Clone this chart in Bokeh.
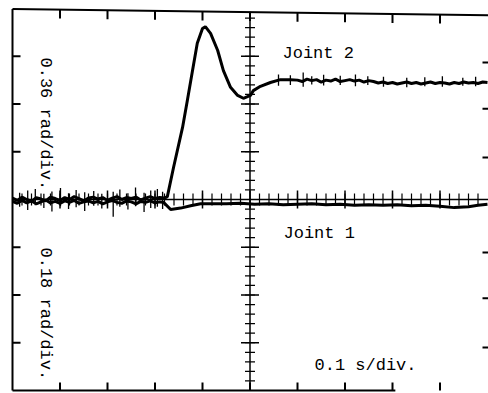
import numpy as np
from bokeh.plotting import figure
from bokeh.models import Range1d
from bokeh.core.properties import value
from bokeh.embed import file_html
from bokeh.resources import INLINE

# ---- data (time in s, amplitude in screen divisions) ----
# Joint 2 : 0.36 rad/div
t2 = [0.000, 0.010, 0.020, 0.030, 0.040, 0.050, 0.060, 0.070, 0.080, 0.090,
      0.100, 0.110, 0.120, 0.130, 0.140, 0.150, 0.160, 0.170, 0.180, 0.190,
      0.200, 0.210, 0.220, 0.230, 0.240, 0.250, 0.260, 0.270, 0.280, 0.290,
      0.300, 0.310, 0.320, 0.326, 0.339, 0.358, 0.368, 0.379, 0.389, 0.400,
      0.406, 0.417, 0.432, 0.444, 0.459, 0.474, 0.486, 0.501, 0.507, 0.522,
      0.543, 0.564, 0.585,
      0.60, 0.61, 0.62, 0.63, 0.64, 0.65, 0.66, 0.67, 0.68, 0.69,
      0.70, 0.71, 0.72, 0.73, 0.74, 0.75, 0.76, 0.77, 0.78, 0.79,
      0.80, 0.81, 0.82, 0.83, 0.84, 0.85, 0.86, 0.87, 0.88, 0.89,
      0.90, 0.91, 0.92, 0.93, 0.94, 0.95, 0.96, 0.97, 0.98, 0.99, 1.00]
y2 = [0.03, -0.02, 0.05, 0.00, -0.04, 0.04, 0.01, -0.03, 0.05, 0.02,
      -0.02, 0.04, 0.00, 0.06, 0.02, -0.03, 0.03, 0.05, 0.01, 0.04,
      -0.02, 0.03, 0.06, 0.00, 0.04, 0.02, 0.05, -0.01, 0.03, 0.06,
      0.02, 0.04, 0.03, 0.06, 0.67, 1.51, 2.07, 2.70, 3.27, 3.58,
      3.62, 3.48, 3.12, 2.70, 2.35, 2.18, 2.12, 2.18, 2.28, 2.37,
      2.45, 2.51, 2.51,
      2.50, 2.47, 2.52, 2.49, 2.51, 2.46, 2.50, 2.48, 2.52, 2.47,
      2.49, 2.51, 2.48, 2.50, 2.46, 2.49, 2.47, 2.44, 2.46, 2.43,
      2.45, 2.42, 2.44, 2.46, 2.43, 2.45, 2.42, 2.44, 2.46, 2.43,
      2.45, 2.44, 2.42, 2.45, 2.43, 2.46, 2.44, 2.45, 2.43, 2.46, 2.45]
# short noise spikes on Joint 2
sp2_t = [0.560, 0.585, 0.612, 0.630, 0.655, 0.690, 0.722, 0.748, 0.781, 0.830, 0.868, 0.905, 0.948, 0.975]
sp2_lo = [2.38, 2.40, 2.36, 2.41, 2.39, 2.40, 2.37, 2.40, 2.36, 2.35, 2.37, 2.36, 2.38, 2.37]
sp2_hi = [2.62, 2.60, 2.66, 2.58, 2.61, 2.59, 2.62, 2.58, 2.57, 2.55, 2.56, 2.58, 2.55, 2.57]

# Joint 1 : 0.18 rad/div
t1 = [0.000, 0.010, 0.020, 0.030, 0.040, 0.050, 0.060, 0.070, 0.080, 0.090,
      0.100, 0.110, 0.120, 0.130, 0.140, 0.150, 0.160, 0.170, 0.180, 0.190,
      0.200, 0.210, 0.220, 0.230, 0.240, 0.250, 0.260, 0.270, 0.280, 0.290,
      0.300, 0.310, 0.318, 0.333, 0.354, 0.375, 0.396, 0.423,
      0.45, 0.48, 0.51, 0.54, 0.57, 0.60, 0.63, 0.66, 0.69, 0.72,
      0.75, 0.78, 0.81, 0.84, 0.87, 0.90, 0.93, 0.96, 0.98, 1.00]
y1 = [-0.04, -0.08, -0.02, -0.07, -0.03, -0.09, -0.05, -0.01, -0.07, -0.04,
      -0.08, -0.03, -0.06, -0.02, -0.08, -0.05, -0.03, -0.07, -0.04, -0.09,
      -0.05, -0.02, -0.06, -0.08, -0.03, -0.05, -0.09, -0.04, -0.06, -0.03,
      -0.07, -0.05, -0.06, -0.21, -0.18, -0.13, -0.09, -0.09,
      -0.09, -0.08, -0.10, -0.09, -0.11, -0.10, -0.09, -0.11, -0.10, -0.12,
      -0.11, -0.12, -0.11, -0.13, -0.12, -0.14, -0.17, -0.15, -0.12, -0.10]
# noise spikes on the common base line
sp0_t = [0.015, 0.032, 0.048, 0.066, 0.083, 0.101, 0.118, 0.134, 0.152, 0.171,
         0.188, 0.212, 0.226, 0.243, 0.259, 0.277, 0.291, 0.305, 0.316]
sp0_lo = [-0.15, -0.22, -0.12, -0.18, -0.25, -0.14, -0.20, -0.16, -0.24, -0.13,
          -0.19, -0.36, -0.15, -0.21, -0.14, -0.26, -0.18, -0.15, -0.20]
sp0_hi = [0.14, 0.19, 0.22, 0.12, 0.17, 0.24, 0.13, 0.20, 0.15, 0.18,
          0.12, 0.16, 0.21, 0.13, 0.25, 0.14, 0.19, 0.22, 0.16]

# right-edge tick marks (divisions, as read)
right_ticks = [2.87, 1.90, 0.88, -1.11, -2.07, -3.10]

labels = {"j2": "Joint 2", "j1": "Joint 1", "time": "0.1 s/div.",
          "s2": "0.36 rad/div.", "s1": "0.18 rad/div."}

# ---- figure ----
PX_T = 475.0      # px per second
PX_D = 47.75      # px per division
p = figure(width=488, height=393, output_backend="svg", toolbar_location=None,
           x_range=Range1d(-12 / PX_T, 476 / PX_T), y_range=Range1d(-194 / PX_D, 199 / PX_D),
           min_border=0, min_border_left=0, min_border_right=0, min_border_top=0, min_border_bottom=0)
p.axis.visible = False
p.grid.visible = False
p.outline_line_color = None
p.background_fill_color = "white"
p.border_fill_color = "white"

K = "black"
xe = 476 / PX_T
dx = lambda px: px / PX_T
dy = lambda px: px / PX_D

# frame
p.line([0, xe], [3.99, 3.86], line_color=K, line_width=2)
p.line([0, 0], [-4, 3.99], line_color=K, line_width=2)
p.line([0, 0.806], [-4, -4], line_color=K, line_width=2)

major_t = [i / 10 for i in range(1, 10)]
major_y = [-3, -2, -1, 1, 2, 3]
# top & bottom ticks
top_at = [3.99 - 0.13 * t / xe for t in major_t]
p.segment(major_t, top_at, major_t, [v - dy(9) for v in top_at], line_color=K, line_width=2)
p.segment(major_t, [-4] * 9, major_t, [-4 + dy(8)] * 9, line_color=K, line_width=2)
# left ticks
p.segment([0] * 6, major_y, [dx(8)] * 6, major_y, line_color=K, line_width=2)
# right ticks
p.segment([xe] * 6, right_ticks, [xe - dx(6)] * 6, right_ticks, line_color=K, line_width=2)

# centre axes
p.line([0.5, 0.5], [-4, 3.93], line_color=K, line_width=1.5)
p.line([0, xe], [0, 0], line_color=K, line_width=1.5)
minor_y = [v for v in np.round(np.arange(-3.8, 3.81, 0.2), 2) if abs(v) > 1e-6]
p.segment([0.5 - dx(5)] * len(minor_y), minor_y, [0.5 + dx(5)] * len(minor_y), minor_y,
          line_color=K, line_width=1.2)
p.segment([0.5 - dx(9)] * 6, major_y, [0.5 + dx(9)] * 6, major_y, line_color=K, line_width=1.5)
minor_t = [v for v in np.round(np.arange(0.02, 1.0, 0.02), 3) if abs(v - 0.5) > 1e-6]
p.segment(minor_t, [-dy(6)] * len(minor_t), minor_t, [dy(6)] * len(minor_t), line_color=K, line_width=1.2)
p.segment(major_t, [-dy(9)] * 9, major_t, [dy(9)] * 9, line_color=K, line_width=1.5)

# traces
p.line(t1, y1, line_color=K, line_width=3)
p.line(t2, y2, line_color=K, line_width=3)
p.segment(sp0_t, sp0_lo, sp0_t, sp0_hi, line_color=K, line_width=1.3)
p.segment(sp2_t, sp2_lo, sp2_t, sp2_hi, line_color=K, line_width=1.3)

font = value("Liberation Mono")
p.text(x=[dx(270)], y=[dy(146)], text=[labels["j2"]], text_font=font, text_font_size="17px",
       text_baseline="alphabetic", text_align="left", text_color=K)
p.text(x=[dx(271)], y=[-dy(34)], text=[labels["j1"]], text_font=font, text_font_size="17px",
       text_baseline="alphabetic", text_align="left", text_color=K)
p.text(x=[dx(302)], y=[-dy(166)], text=[labels["time"]], text_font=font, text_font_size="17px",
       text_baseline="alphabetic", text_align="left", text_color=K)
p.text(x=[dx(33)], y=[dy(142)], text=[labels["s2"]], text_font=font, text_font_size="17px",
       text_baseline="alphabetic", text_align="left", angle=-np.pi / 2, text_color=K)
p.text(x=[dx(33)], y=[-dy(48)], text=[labels["s1"]], text_font=font, text_font_size="17px",
       text_baseline="alphabetic", text_align="left", angle=-np.pi / 2, text_color=K)

open("out.html", "w").write(file_html(p, INLINE))
